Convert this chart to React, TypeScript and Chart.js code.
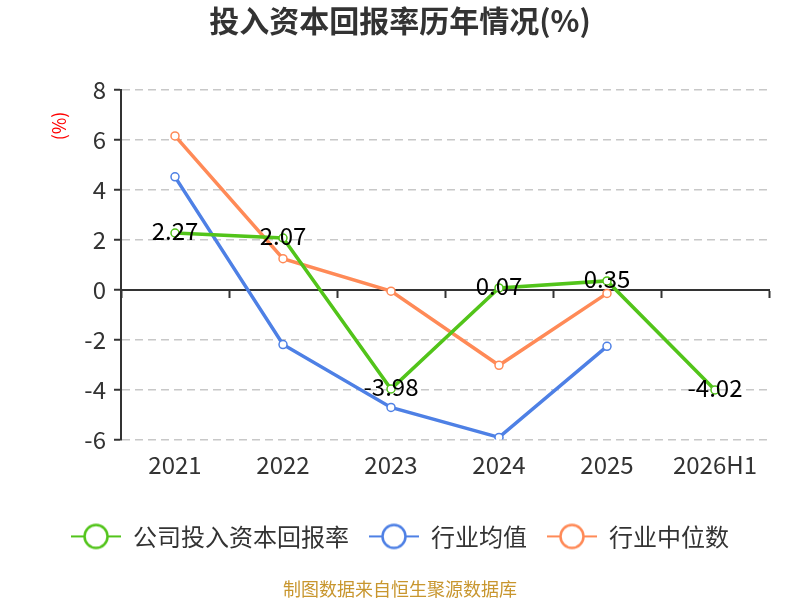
import React, { useEffect, useRef } from "react";
import { Chart, registerables } from "chart.js";

Chart.register(...registerables);

const categories = ["2021", "2022", "2023", "2024", "2025", "2026H1"];
const companyRoic = [2.27, 2.07, -3.98, 0.07, 0.35, -4.02];
const industryAvg = [4.52, -2.2, -4.72, -5.92, -2.27, null];
const industryMedian = [6.16, 1.24, -0.06, -3.03, -0.15, null];
const yTicks = { min: -6, max: 8, step: 2 };

const GREEN = "#52c41a";
const BLUE = "#4e80e5";
const ORANGE = "#ff8a57";
const FONT = '"Noto Sans CJK SC", "Noto Sans", sans-serif';

// legend marker: a short line with an open circle in the middle
function makeMarker(color: string) {
  const c = document.createElement("canvas");
  c.width = 50;
  c.height = 28;
  const g = c.getContext("2d")!;
  g.strokeStyle = color;
  g.lineWidth = 2;
  g.beginPath();
  g.moveTo(0, 14);
  g.lineTo(50, 14);
  g.stroke();
  g.beginPath();
  g.arc(25, 14, 11.5, 0, Math.PI * 2);
  g.fillStyle = "#fff";
  g.fill();
  g.lineWidth = 2.5;
  g.stroke();
  return c;
}

const extras = {
  id: "extras",
  afterDatasetsDraw(chart: any) {
    const ctx = chart.ctx;
    const area = chart.chartArea;
    ctx.save();
    // unit label
    ctx.translate(area.left - 62, area.top + 36);
    ctx.rotate(-Math.PI / 2);
    ctx.fillStyle = "#ff0000";
    ctx.font = `18px ${FONT}`;
    ctx.textAlign = "center";
    ctx.textBaseline = "middle";
    ctx.fillText("(%)", 0, 0);
    ctx.restore();

    // value labels on the company series
    const meta = chart.getDatasetMeta(0);
    ctx.save();
    ctx.fillStyle = "#000";
    ctx.font = `24px ${FONT}`;
    ctx.textAlign = "center";
    ctx.textBaseline = "middle";
    meta.data.forEach((pt: any, i: number) => {
      const v = companyRoic[i];
      if (v == null) return;
      ctx.fillText(v.toFixed(2), pt.x, pt.y - 2);
    });
    ctx.restore();
  },
};

export default function App() {
  const canvasRef = useRef<HTMLCanvasElement>(null);

  useEffect(() => {
    document.body.style.margin = "0";
    if (!canvasRef.current) return;
    const markers = [makeMarker(GREEN), makeMarker(BLUE), makeMarker(ORANGE)];

    const chart = new Chart(canvasRef.current, {
      type: "line",
      data: {
        labels: categories,
        datasets: [
          {
            label: "公司投入资本回报率",
            data: companyRoic,
            borderColor: GREEN,
            backgroundColor: "#fff",
            borderWidth: 3.5,
            pointRadius: 4,
            pointBorderWidth: 1.5,
          },
          {
            label: "行业均值",
            data: industryAvg,
            borderColor: BLUE,
            backgroundColor: "#fff",
            borderWidth: 3.5,
            pointRadius: 4,
            pointBorderWidth: 1.5,
          },
          {
            label: "行业中位数",
            data: industryMedian,
            borderColor: ORANGE,
            backgroundColor: "#fff",
            borderWidth: 3.5,
            pointRadius: 4,
            pointBorderWidth: 1.5,
          },
        ],
      },
      options: {
        responsive: false,
        animation: false,
        layout: { padding: { left: 31, right: 31, top: 0, bottom: 0 } },
        plugins: {
          title: {
            display: true,
            text: "投入资本回报率历年情况(%)",
            color: "#333",
            font: { family: FONT, size: 30, weight: "bold" },
            padding: { top: 3, bottom: 51 },
          },
          subtitle: {
            display: true,
            position: "bottom",
            text: "制图数据来自恒生聚源数据库",
            color: "#c8962e",
            font: { family: FONT, size: 18 },
            padding: { top: 20, bottom: 0 },
          },
          legend: {
            position: "bottom",
            labels: {
              usePointStyle: true,
              pointStyleWidth: 50,
              padding: 20,
              color: "#333",
              font: { family: FONT, size: 24 },
              generateLabels: (ch: any) =>
                ch.data.datasets.map((ds: any, i: number) => ({
                  text: ds.label,
                  datasetIndex: i,
                  pointStyle: markers[i],
                  fontColor: "#333",
                  hidden: false,
                  lineWidth: 0,
                  strokeStyle: "transparent",
                  fillStyle: "transparent",
                })),
            },
          },
          tooltip: { enabled: false },
        },
        scales: {
          x: {
            type: "category",
            offset: true,
            grid: { display: false, drawTicks: false },
            border: { display: false },
            ticks: { color: "#333", font: { family: FONT, size: 24 }, padding: 11 },
            afterFit: (s: any) => {
              s.height = 65;
            },
          },
          x0: {
            type: "category",
            axis: "x",
            position: { y: 0 },
            offset: true,
            grid: {
              offset: true,
              drawOnChartArea: false,
              tickLength: 7,
              tickColor: "#333",
              tickWidth: 2,
            },
            border: { color: "#333", width: 2 },
            ticks: { display: false },
          },
          y: {
            min: yTicks.min,
            max: yTicks.max,
            ticks: {
              stepSize: yTicks.step,
              color: "#333",
              font: { family: FONT, size: 24 },
              padding: 8,
            },
            grid: {
              color: "#c8c8c8",
              lineWidth: 1.5,
              tickLength: 7,
              tickColor: "#333",
              tickWidth: 2,
              tickBorderDash: [],
            },
            border: { color: "#333", width: 2, dash: [8, 5] },
            afterFit: (s: any) => {
              s.width = 90;
            },
          },
        },
      } as any,
      plugins: [extras],
    });

    return () => chart.destroy();
  }, []);

  return <canvas ref={canvasRef} width={800} height={600} />;
}
